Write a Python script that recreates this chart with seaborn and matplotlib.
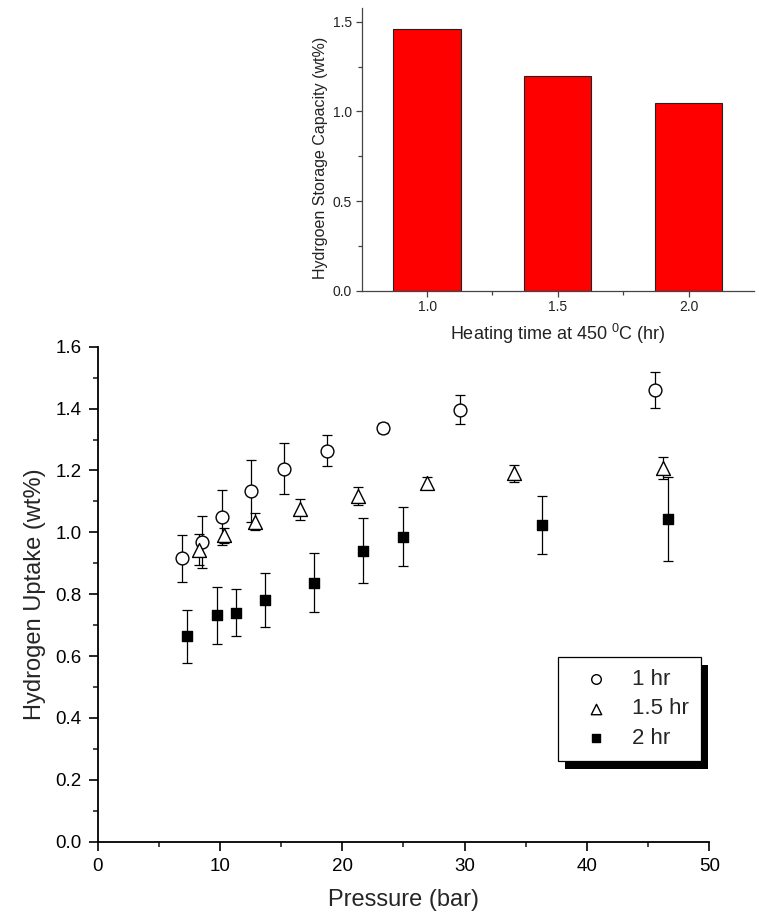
import matplotlib
matplotlib.use("Agg")
import matplotlib.pyplot as plt
from matplotlib.patches import Rectangle
from matplotlib.ticker import MultipleLocator, FixedLocator
import seaborn as sns

# Hydrogen uptake vs. pressure for three heating times at 450 C
p_1hr = [6.9, 8.5, 10.2, 12.5, 15.2, 18.75, 23.3, 29.6, 45.6]
u_1hr = [0.916, 0.969, 1.048, 1.133, 1.206, 1.264, 1.336, 1.397, 1.460]
e_1hr = [0.075, 0.083, 0.090, 0.100, 0.083, 0.050, 0.016, 0.046, 0.058]

p_15hr = [8.3, 10.3, 12.9, 16.5, 21.3, 26.95, 34.0, 46.25]
u_15hr = [0.943, 0.990, 1.034, 1.074, 1.118, 1.160, 1.191, 1.207]
e_15hr = [0.050, 0.025, 0.028, 0.033, 0.030, 0.020, 0.027, 0.035]

p_2hr = [7.3, 9.75, 11.3, 13.7, 17.7, 21.7, 25.0, 36.3, 46.6]
u_2hr = [0.664, 0.732, 0.740, 0.781, 0.837, 0.941, 0.986, 1.024, 1.043]
e_2hr = [0.085, 0.092, 0.076, 0.086, 0.095, 0.106, 0.096, 0.093, 0.136]

series_labels = ["1 hr", "1.5 hr", "2 hr"]

# Maximum storage capacity per heating time (inset)
heating_time = [1.0, 1.5, 2.0]
capacity = [1.46, 1.20, 1.045]

sns.set_style("ticks")
plt.rcParams["font.family"] = ["Liberation Sans", "DejaVu Sans"]
plt.rcParams["mathtext.fontset"] = "custom"
plt.rcParams["mathtext.rm"] = "Liberation Sans"
plt.rcParams["mathtext.it"] = "Liberation Sans"

W, H = 759, 914
fig = plt.figure(figsize=(W / 100, H / 100), dpi=100)
fig.patch.set_facecolor("white")

# ---------------- main plot ----------------
ax = fig.add_axes([97.7 / W, 1 - 841.7 / H, (709.3 - 97.7) / W, (841.7 - 346.7) / H])

for p, u, e in [(p_1hr, u_1hr, e_1hr), (p_15hr, u_15hr, e_15hr), (p_2hr, u_2hr, e_2hr)]:
    ax.errorbar(p, u, yerr=e, fmt="none", ecolor="black", elinewidth=0.9,
                capsize=3.6, capthick=0.9, zorder=2)

sns.scatterplot(x=p_1hr, y=u_1hr, marker="o", s=85, facecolor="white",
                edgecolor="black", linewidth=1.0, label=series_labels[0], ax=ax, zorder=3)
sns.scatterplot(x=p_15hr, y=u_15hr, marker="^", s=100, facecolor="white",
                edgecolor="black", linewidth=1.0, label=series_labels[1], ax=ax, zorder=3)
sns.scatterplot(x=p_2hr, y=u_2hr, marker="s", s=55, facecolor="black",
                edgecolor="black", linewidth=1.0, label=series_labels[2], ax=ax, zorder=3)

ax.set_xlim(0, 50)
ax.set_ylim(0, 1.6)
ax.xaxis.set_major_locator(MultipleLocator(10))
ax.xaxis.set_minor_locator(MultipleLocator(5))
ax.yaxis.set_major_locator(MultipleLocator(0.2))
ax.yaxis.set_minor_locator(MultipleLocator(0.1))
ax.yaxis.set_major_formatter(plt.FuncFormatter(lambda v, _: f"{v:.1f}"))
for s in ["top", "right"]:
    ax.spines[s].set_visible(False)
for s in ["left", "bottom"]:
    ax.spines[s].set_linewidth(1.3)
    ax.spines[s].set_color("black")
ax.tick_params(which="major", direction="out", length=6.5, width=1.2,
               labelsize=13.5, pad=5, colors="black")
ax.tick_params(which="minor", direction="out", length=3.5, width=1.2)
ax.set_facecolor("none")

ax.set_xlabel("Pressure (bar)", fontsize=17)
ax.xaxis.set_label_coords(0.5, -0.095)
ax.set_ylabel("Hydrogen Uptake (wt%)", fontsize=17)
ax.yaxis.set_label_coords(-0.085, 0.5)

leg = ax.legend(loc="upper left", bbox_to_anchor=(0.7526, 0.3731), borderaxespad=0,
                frameon=True, fancybox=False, framealpha=1, edgecolor="black",
                fontsize=16, markerscale=0.75, handletextpad=0.45, labelspacing=0.38,
                borderpad=0.54, handlelength=2.34)
leg.get_frame().set_linewidth(0.9)
leg.set_zorder(6)

# ---------------- inset bar chart ----------------
ax_in = fig.add_axes([361.7 / W, 1 - 290.7 / H, (754 - 361.7) / W, (290.7 - 8) / H])
sns.barplot(x=heating_time, y=capacity, native_scale=True, width=0.514,
            color="red", saturation=1, edgecolor="#222222", linewidth=0.8,
            errorbar=None, ax=ax_in)
ax_in.set_xlim(0.75, 2.25)
ax_in.set_ylim(0, 1.577)
ax_in.xaxis.set_major_locator(FixedLocator(heating_time))
ax_in.xaxis.set_major_formatter(plt.FuncFormatter(lambda v, _: f"{v:.1f}"))
ax_in.xaxis.set_minor_locator(FixedLocator([1.25, 1.75]))
ax_in.yaxis.set_major_locator(MultipleLocator(0.5))
ax_in.yaxis.set_minor_locator(MultipleLocator(0.25))
ax_in.yaxis.set_major_formatter(plt.FuncFormatter(lambda v, _: f"{v:.1f}"))
for s in ["top", "right"]:
    ax_in.spines[s].set_visible(False)
for s in ["left", "bottom"]:
    ax_in.spines[s].set_linewidth(0.9)
    ax_in.spines[s].set_color("#444444")
ax_in.tick_params(which="major", direction="out", length=4.5, width=0.9,
                  labelsize=10, pad=2.5, color="#444444", labelcolor="#222222")
ax_in.tick_params(which="minor", direction="out", length=3, width=0.9, color="#444444")
ax_in.set_facecolor("none")
ax_in.set_xlabel("Heating time at 450 $^{0}$C (hr)", fontsize=13, color="#222222")
ax_in.xaxis.set_label_coords(0.5, -0.11)
ax_in.set_ylabel("Hydrgoen Storage Capacity (wt%)", fontsize=11.5, color="#222222")
ax_in.yaxis.set_label_coords(-0.085, 0.47)

# solid drop shadow behind the legend box
fig.canvas.draw()
bb = leg.get_frame().get_window_extent(fig.canvas.get_renderer())
inv = ax.transAxes.inverted()
x0, y0 = inv.transform((bb.x0 + 7, bb.y0 - 8))
x1, y1 = inv.transform((bb.x1 + 7, bb.y1 - 8))
ax.add_patch(Rectangle((x0, y0), x1 - x0, y1 - y0, transform=ax.transAxes,
                       facecolor="black", edgecolor="none", zorder=5.9, clip_on=False))

fig.savefig("out.png", dpi=100)
